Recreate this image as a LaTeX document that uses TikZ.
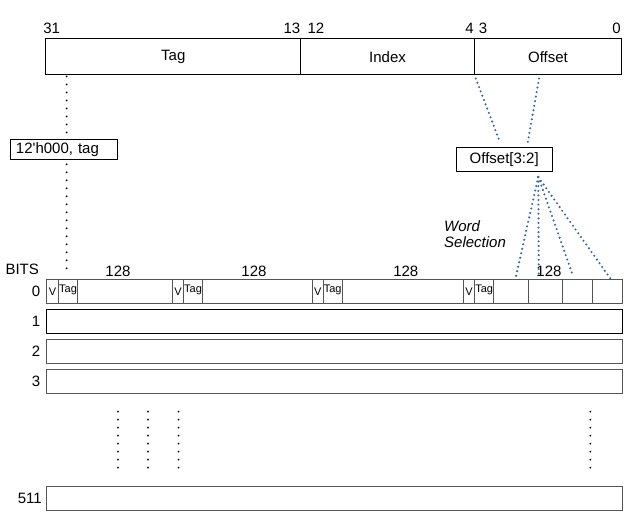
\documentclass[tikz,border=0pt]{standalone}
\usepackage{fontspec}
\setmainfont{Liberation Sans}
\usepackage{tikz}
\usetikzlibrary{calc}
\definecolor{wireblue}{HTML}{3465A4}
\definecolor{rowgray}{HTML}{555555}
\newcommand{\cellfont}{\fontsize{11}{12}\selectfont}

\begin{document}
\begin{tikzpicture}[x=1pt,y=-1pt,font=\fontsize{15}{18}\selectfont,
  field/.style={draw,line width=1pt,minimum height=36,inner sep=0},
  selbox/.style={draw,line width=1pt,minimum height=20,inner sep=0},
  cell/.style={draw=rowgray,line width=1pt,anchor=north west,minimum height=24,inner sep=0,font=\cellfont},
  tagcell/.style={cell,text depth=7},
  row/.style={draw=rowgray,line width=1pt,anchor=north west,minimum width=576,minimum height=24,inner sep=0},
  rowno/.style={anchor=east,inner sep=0},
  wire/.style={wireblue,line width=2.3pt,line cap=round,dash pattern=on 0pt off 4.6pt},
  tagdots/.style={line width=2pt,line cap=round,dash pattern=on 0pt off 8pt}]
\useasboundingbox (0,0) rectangle (633,526);
%address fields
\node[field,minimum width=254.7] (tagf) at (173.3,57) {Tag};
\node[field,minimum width=173.6] (idxf) at (387.5,57) {Index};
\node[field,minimum width=147.4] (offf) at (548,57) {Offset};
\node at (51.7,28.5) {31};
\node at (292,28.5) {13};
\node at (316,28.5) {12};
\node at (469.5,28.5) {4};
\node at (483,28.5) {3};
\node at (616.5,28.5) {0};
%row 0 of the cache
\node[anchor=west] at (2,269) {BITS};
\node[cell,minimum width=12] (v0) at (46,279.5) {V};
\node[tagcell,minimum width=19] (t0) at (58,279.5) {Tag};
\node[cell,minimum width=95] (d0) at (77,279.5) {};
\node[cell,minimum width=11] (v1) at (172,279.5) {V};
\node[tagcell,minimum width=19] (t1) at (183,279.5) {Tag};
\node[cell,minimum width=109.7] (d1) at (202,279.5) {};
\node[cell,minimum width=11] (v2) at (311.7,279.5) {V};
\node[tagcell,minimum width=19] (t2) at (322.7,279.5) {Tag};
\node[cell,minimum width=121.6] (d2) at (341.7,279.5) {};
\node[cell,minimum width=10.7] (v3) at (463.3,279.5) {V};
\node[tagcell,minimum width=19.3] (t3) at (474,279.5) {Tag};
\node[cell,minimum width=34.4] (w0) at (493.3,279.5) {};
\node[cell,minimum width=34] (w1) at (527.7,279.5) {};
\node[cell,minimum width=30] (w2) at (561.7,279.5) {};
\node[cell,minimum width=30.3] (w3) at (591.7,279.5) {};
\node at (118,271.7) {128};
\node at (254,271.7) {128};
\node at (405.8,271.7) {128};
\node at (549,271.7) {128};
%the other rows
\node[row,draw=black] (r1) at (46,309.5) {};
\node[row] (r2) at (46,339.5) {};
\node[row] (r3) at (46,369.5) {};
\node[row] (r511) at (46,486.5) {};
\node[rowno] at (40.5,291.5) {0};
\node[rowno] at (40.5,321.5) {1};
\node[rowno] at (40.5,351.5) {2};
\node[rowno] at (40.5,381.5) {3};
\node[rowno] at (42,498.5) {511};
\draw[tagdots] (118,411.7) -- (118,468.6);
\draw[tagdots] (148,411.7) -- (148,468.6);
\draw[tagdots] (178.5,411.7) -- (178.5,468.6);
\draw[tagdots] (590.4,411.7) -- (590.4,468.6);
%tag compare
\node[selbox,anchor=north west,minimum width=106.7,text width=95.7,inner xsep=5.5,align=left] (tsel) at (10,139.3) {12\textquotesingle h000, tag};
\coordinate (tdrop) at (66.7,76.5);
\draw[tagdots] (tdrop) -- ($(tdrop |- tsel.north)+(0,-4)$);
\draw[tagdots] ($(tdrop |- tsel.south)+(0,4)$) -- ($(tdrop |- t0.north)+(0,-4)$);
%word selection
\node[selbox,minimum width=96.3,minimum height=23.7] (osel) at (504.2,159.2) {Offset[3:2]};
\draw[wire] ($(offf.south west)+(2,3)$) -- ($(osel.north)+(-4,-4)$);
\draw[wire] ($(offf.south)+(-9,3)$) -- ($(osel.north)+(23.5,-4)$);
\coordinate (fan) at (538.3,177);
\draw[wire] (fan) -- ($(w0.north)+(4.5,-1)$);
\draw[wire] (fan) -- ($(w1.north)+(-6.4,-2)$);
\draw[wire] (fan) -- ($(w2.north)+(-4,-3)$);
\draw[wire] (fan) -- ($(w3.north)+(3,-1)$);
\node[anchor=west,align=left,font=\fontsize{15}{15.7}\selectfont\itshape,inner sep=0] at (444,234) {Word\\Selection};
\end{tikzpicture}
\end{document}
